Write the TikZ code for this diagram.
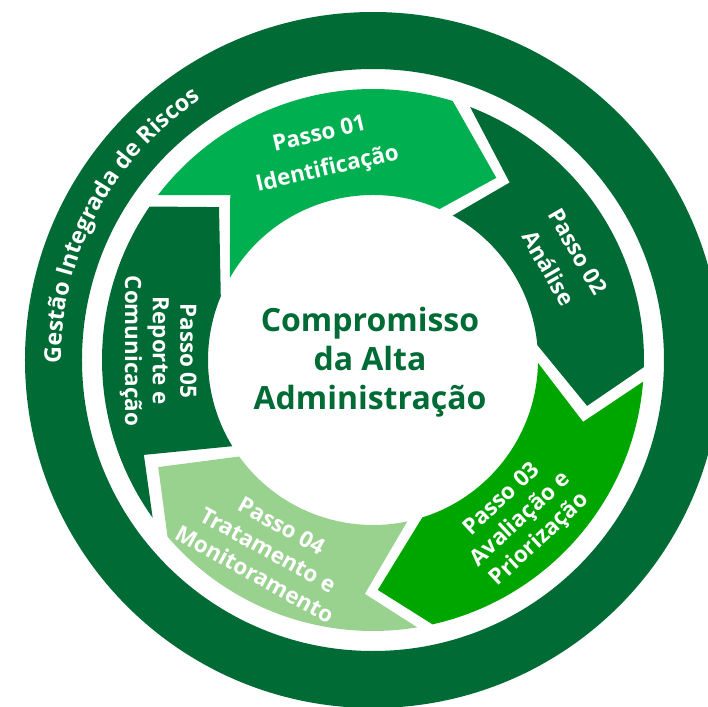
\documentclass[tikz,border=0pt]{standalone}
\usepackage{fontspec}
\setmainfont{Open Sans}
\usetikzlibrary{decorations.text}

\definecolor{darkgreen}{HTML}{006B35}
\definecolor{stepone}{HTML}{00B050}
\definecolor{stepthree}{HTML}{00A600}
\definecolor{stepfour}{HTML}{99D18F}

\begin{document}
\begin{tikzpicture}[x=0.5pt,y=0.5pt,
		passo/.style={text=white,align=center,font=\bfseries\fontsize{11.2}{13.8}\selectfont},
		core/.style={text=darkgreen,align=center,font=\bfseries\fontsize{16}{19.5}\selectfont}]
	\useasboundingbox (-373,-347) rectangle (335,360);

	% outer ring
	\fill[darkgreen, even odd rule] (0,0) circle (348) (0,0) circle (291);
	\path[decorate, decoration={text along path, text align=center, text color=white,
		text={|\bfseries\fontsize{11.6}{13}\selectfont|Gestão Integrada de Riscos}}]
		(212:312) arc[start angle=212, end angle=92, radius=312];

	% the five steps
	\fill[stepone] (142.5:271) arc[start angle=142.5, end angle=72.9, radius=271]
		-- (55.9:220) -- (66.2:165) arc[start angle=66.2, end angle=150.2, radius=165]
		-- (130.9:218) -- cycle;
	\fill[darkgreen] (69.0:271) arc[start angle=69.0, end angle=-1.5, radius=271]
		-- (-12.1:219) -- (5.2:165) arc[start angle=5.2, end angle=61.1, radius=165]
		-- (52.4:224) -- cycle;
	\fill[stepthree] (-4.6:271) arc[start angle=-4.6, end angle=-77.3, radius=271]
		-- (-88.8:230) -- (-72.6:165) arc[start angle=-72.6, end angle=-1.0, radius=165]
		-- (-16.4:219) -- cycle;
	\fill[stepfour] (-80.6:271) arc[start angle=-80.6, end angle=-139.3, radius=271]
		-- (-153.5:240) -- (-144.2:165) arc[start angle=-144.2, end angle=-78, radius=165]
		-- (-92:234) -- cycle;
	\fill[darkgreen] (215.6:271) arc[start angle=215.6, end angle=145.5, radius=271]
		-- (135.2:217) -- (157.3:165) arc[start angle=157.3, end angle=211.5, radius=165]
		-- (202.5:248) -- cycle;

	\node[passo, rotate=13] (lbl01) at (103.4:213) {Passo 01\\[4pt]Identificação};
	\node[passo, rotate=-60] (lbl02) at (27.8:215) {Passo 02\\[3pt]Análise};
	\node[passo, rotate=43] (lbl03) at (-47.2:218) {Passo 03\\Avaliação e\\Priorização};
	\node[passo, rotate=-29] (lbl04) at (-118.9:217) {Passo 04\\Tratamento e\\Monitoramento};
	\node[passo, rotate=-90] (lbl05) at (177.6:215) {Passo 05\\Reporte e\\Comunicação};

	\node[core] (centre) at (-3,-2) {Compromisso\\da Alta\\Administração};
\end{tikzpicture}
\end{document}
